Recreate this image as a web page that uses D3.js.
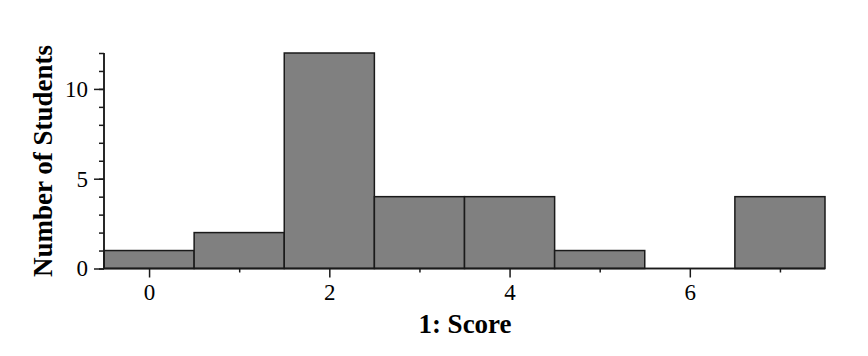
<!DOCTYPE html>
<html>
<head>
<meta charset="utf-8">
<script src="https://cdn.jsdelivr.net/npm/d3@7"></script>
<style>
  html, body { margin: 0; padding: 0; background: #fff; }
  svg { display: block; }
</style>
</head>
<body>
<div id="chart"></div>
<script>
'use strict';

// histogram of scores, one bin per integer score
var scores = [0, 1, 2, 3, 4, 5, 6, 7];
var counts = [1, 2, 12, 4, 4, 1, 0, 4];
var xMajorTicks = [0, 2, 4, 6];
var xMinorTicks = [1, 3, 5, 7];
var yMajorTicks = [0, 5, 10];
var yMinorTicks = d3.range(0, 13);

var width = 868, height = 356;
var margin = { left: 104, right: 43, top: 53, bottom: 87 };
var font = '"Liberation Serif", "Times New Roman", serif';
var ink = '#1a1a1a';

var svg = d3.select('#chart').append('svg')
  .attr('width', width)
  .attr('height', height);

var x = d3.scaleLinear()
  .domain([-0.5, 7.5])
  .range([margin.left, width - margin.right]);

var y = d3.scaleLinear()
  .domain([0, 12])
  .range([height - margin.bottom - 0.5, margin.top]);

// bars
svg.append('g')
  .selectAll('rect')
  .data(scores)
  .join('rect')
  .attr('x', function (d) { return x(d - 0.5); })
  .attr('width', function (d) { return x(d + 0.5) - x(d - 0.5); })
  .attr('y', function (d, i) { return y(counts[i]); })
  .attr('height', function (d, i) { return y(0) - y(counts[i]); })
  .attr('fill', '#808080')
  .attr('stroke', ink)
  .attr('stroke-width', 1.5);

// x axis
var xAxis = svg.append('g')
  .attr('transform', 'translate(0,' + y(0) + ')');

xAxis.call(d3.axisBottom(x).tickValues(xMinorTicks).tickSize(4).tickFormat(''));
xAxis.call(function (g) {
  g.append('g').call(d3.axisBottom(x).tickValues(xMajorTicks).tickSize(9).tickPadding(6).tickFormat(d3.format('d')));
});
xAxis.selectAll('.domain').attr('d', 'M' + x(-0.5) + ',0H' + x(7.5));

// y axis
var yAxis = svg.append('g')
  .attr('transform', 'translate(' + x(-0.5) + ',0)');

yAxis.call(d3.axisLeft(y).tickValues(yMinorTicks).tickSize(5).tickFormat(''));
yAxis.call(function (g) {
  g.append('g').call(d3.axisLeft(y).tickValues(yMajorTicks).tickSize(10).tickPadding(6).tickFormat(d3.format('d')));
});
yAxis.selectAll('.domain').attr('d', 'M0,' + y(0) + 'V' + y(12));

svg.selectAll('.domain, .tick line')
  .attr('stroke', ink)
  .attr('stroke-width', 1.5);

svg.selectAll('.tick text')
  .attr('fill', '#000')
  .style('font-family', font)
  .style('font-size', '23px');

// axis titles
svg.append('text')
  .attr('x', 465)
  .attr('y', 333)
  .attr('text-anchor', 'middle')
  .style('font-family', font)
  .style('font-size', '27px')
  .style('font-weight', 'bold')
  .text('1: Score');

svg.append('text')
  .attr('transform', 'translate(52,161) rotate(-90)')
  .attr('text-anchor', 'middle')
  .style('font-family', font)
  .style('font-size', '27px')
  .style('font-weight', 'bold')
  .text('Number of Students');
</script>
</body>
</html>
